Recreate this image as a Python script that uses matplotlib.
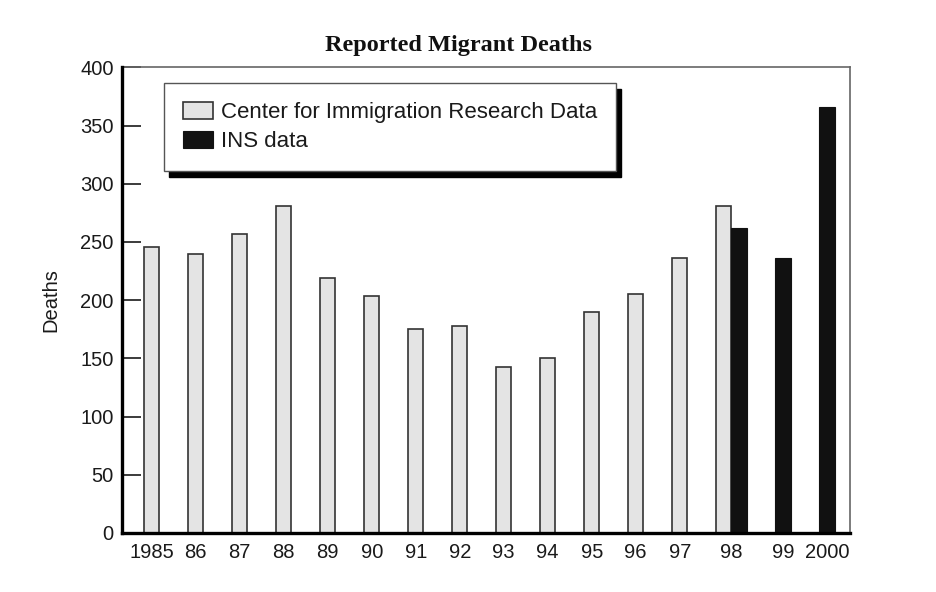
import numpy as np
import matplotlib.pyplot as plt

plt.rcParams['font.family'] = ['Liberation Sans', 'DejaVu Sans']

years = ['1985', '86', '87', '88', '89', '90', '91', '92', '93', '94',
         '95', '96', '97', '98', '99', '2000']
cir_years = ['1985', '86', '87', '88', '89', '90', '91', '92', '93', '94',
             '95', '96', '97', '98']
cir_deaths = [246, 240, 257, 281, 219, 204, 175, 178, 143, 150, 190, 205, 236, 281]
ins_years = ['98', '99', '2000']
ins_deaths = [262, 236, 366]

width = 0.35
slot = {y: i for i, y in enumerate(years)}
cir_x = np.array([slot[y] for y in cir_years], dtype=float)
ins_x = np.array([slot[y] for y in ins_years], dtype=float) + width

# tick under the single bar, or centred between the pair
tick_x = []
for y in years:
    xs = []
    if y in cir_years:
        xs.append(slot[y])
    if y in ins_years:
        xs.append(slot[y] + width)
    tick_x.append(np.mean(xs))

fig = plt.figure(figsize=(9.37, 5.92), dpi=100)
ax = fig.add_axes([122 / 937, 1 - 533 / 592, 728 / 937, 465.6 / 592])

ax.bar(cir_x, cir_deaths, width, color='#e4e4e4', edgecolor='#333333',
       linewidth=1.2, label='Center for Immigration Research Data', zorder=2)
ax.bar(ins_x, ins_deaths, width, color='#111111', edgecolor='#111111',
       linewidth=0.8, label='INS data', zorder=2)

ax.set_xlim(-0.675, 15.87)
ax.set_ylim(0, 400)
ax.set_yticks(np.arange(0, 401, 50))
ax.set_xticks(tick_x)
ax.set_xticklabels(years)
ax.tick_params(axis='y', direction='in', length=14, width=1.2, pad=6,
               labelsize=14.5, colors='#1a1a1a')
ax.tick_params(axis='x', length=0, pad=7, labelsize=14.5, colors='#1a1a1a')

for s in ['left', 'bottom']:
    ax.spines[s].set_linewidth(2.4)
    ax.spines[s].set_color('black')
for s in ['top', 'right']:
    ax.spines[s].set_linewidth(1.2)
    ax.spines[s].set_color('#666666')
ax.spines['left'].set_zorder(3)
ax.spines['bottom'].set_zorder(3)

ax.set_ylabel('Deaths', fontsize=14.5, color='#1a1a1a', labelpad=14)

leg = ax.legend(loc='upper left', bbox_to_anchor=(0.058, 0.966),
                borderaxespad=0, fontsize=16, frameon=True, fancybox=False,
                framealpha=1, edgecolor='#555555', handlelength=1.35,
                handleheight=0.78, handletextpad=0.36, labelspacing=0.36,
                borderpad=0.85,
                shadow={'ox': 3.5, 'oy': -4.5, 'color': 'black', 'alpha': 1})
leg.get_frame().set_linewidth(1.0)
for t in leg.get_texts():
    t.set_color('#1a1a1a')

fig.text(459 / 937, 1 - 51 / 592, 'Reported Migrant Deaths', ha='center',
         va='baseline', fontsize=17.5, fontweight='bold',
         family=['Liberation Serif', 'DejaVu Serif'], color='#111111')

fig.savefig('out.png', dpi=100, facecolor='white')
